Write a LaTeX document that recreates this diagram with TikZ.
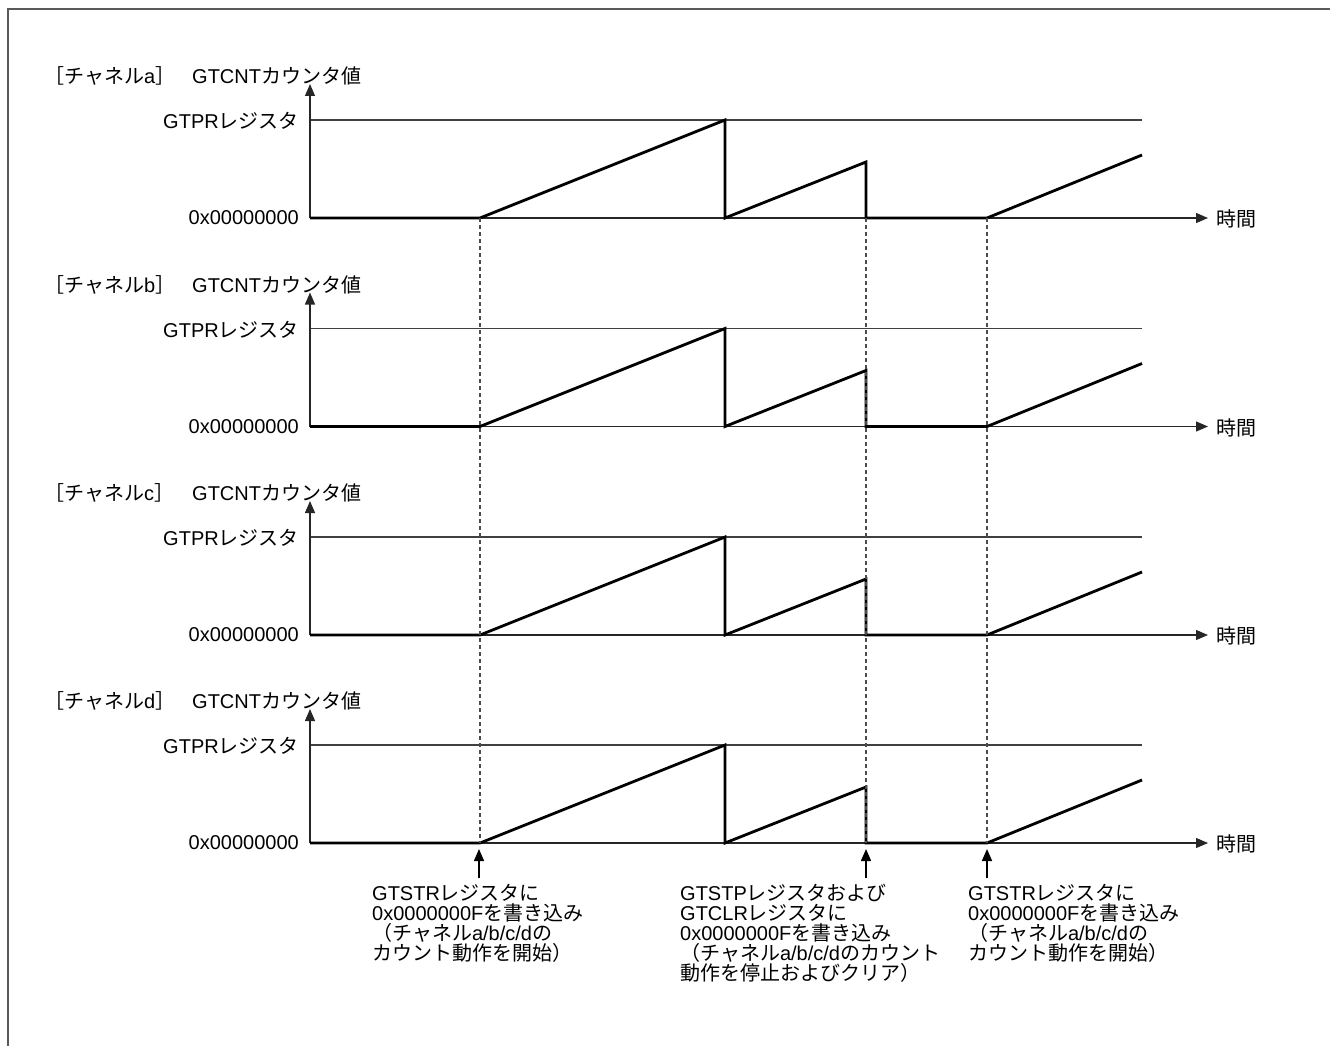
\documentclass[tikz,border=0pt]{standalone}
\usepackage{fontspec}
\setmainfont{Liberation Sans}
\newfontfamily\cjk{Noto Sans CJK JP}
\usetikzlibrary{arrows.meta}
\newcommand\J[1]{{\cjk #1}}
\newcommand\basefont{\fontsize{20}{20}\selectfont\lineskiplimit=-8pt\relax}
\begin{document}
\begin{tikzpicture}[x=1pt,y=-1pt,
  font={\basefont},
  txt/.style={inner sep=0pt},
  axisline/.style={draw=black!85, line width=1.2pt},
  axisarrow/.style={axisline, -{Triangle[length=12pt,width=10pt]}},
  levelline/.style={draw=black!75, line width=1.2pt},
  wave/.style={draw=black, line width=2.8pt, line join=miter},
  guide/.style={draw=black!70, line width=1.1pt, dash pattern=on 4pt off 3pt},
  evarrow/.style={draw=black, line width=1.5pt, -{Triangle[length=12pt,width=10pt]}},
  framel/.style={draw=black!65, line width=1.6pt},
  note/.style={txt, anchor=north west, align=left}]
\useasboundingbox (0,0) rectangle (1330,1046);
\draw[framel] (8,1046) -- (8,9) -- (1330,9);

\foreach \ch/\z in {a/218,b/426.5,c/635,d/843}{
  \coordinate (o\ch) at (310,\z);
  \coordinate (ytop\ch) at (310,\z-134);
  \coordinate (xend\ch) at (1208,\z);
  \coordinate (prs\ch) at (310,\z-98);
  \coordinate (pre\ch) at (1142,\z-98);
  \coordinate (s1\ch) at (480,\z);
  \coordinate (pk1\ch) at (725,\z-98);
  \coordinate (r1\ch) at (725,\z);
  \coordinate (pk2\ch) at (866,\z-56);
  \coordinate (st\ch) at (866,\z);
  \coordinate (s2\ch) at (987,\z);
  \coordinate (end\ch) at (1142,\z-63);
  \node[txt, anchor=west] (lab\ch) at (44,\z-142) {\J{［チャネル}\ch\J{］}};
  \node[txt, anchor=west] (cnt\ch) at (192,\z-142) {GTCNT\J{カウンタ値}};
  \node[txt, anchor=east] (gtpr\ch) at (299,\z-97) {GTPR\J{レジスタ}};
  \node[txt, anchor=east] (zero\ch) at (299,\z) {0x00000000};
  \node[txt, anchor=west] (time\ch) at (1216,\z+1) {\J{時間}};
  \draw[levelline] (prs\ch) -- (pre\ch);
  \draw[axisarrow] (o\ch) -- (ytop\ch);
  \draw[axisarrow] (o\ch) -- (xend\ch);
  \draw[wave] (o\ch) -- (s1\ch) -- (pk1\ch) -- (r1\ch) -- (pk2\ch) -- (st\ch) -- (s2\ch) -- (end\ch);
}

\draw[guide] (s1a) -- (s1d);
\draw[guide] (sta) -- (std);
\draw[guide] (s2a) -- (s2d);

\coordinate (e1t) at (479,849);
\coordinate (e1b) at (479,878);
\coordinate (e2t) at (866,849);
\coordinate (e2b) at (866,878);
\coordinate (e3t) at (987,849);
\coordinate (e3b) at (987,878);
\draw[evarrow] (e1b) -- (e1t);
\draw[evarrow] (e2b) -- (e2t);
\draw[evarrow] (e3b) -- (e3t);

\node[note] (n1) at (372,884) {GTSTR\J{レジスタに}\\0x0000000F\J{を書き込み}\\\J{（チャネル}a/b/c/d\J{の}\\\J{カウント動作を開始）}};
\node[note] (n2) at (680,884) {GTSTP\J{レジスタおよび}\\GTCLR\J{レジスタに}\\0x0000000F\J{を書き込み}\\\J{（チャネル}a/b/c/d\J{のカウント}\\\J{動作を停止およびクリア）}};
\node[note] (n3) at (968,884) {GTSTR\J{レジスタに}\\0x0000000F\J{を書き込み}\\\J{（チャネル}a/b/c/d\J{の}\\\J{カウント動作を開始）}};
\end{tikzpicture}
\end{document}
